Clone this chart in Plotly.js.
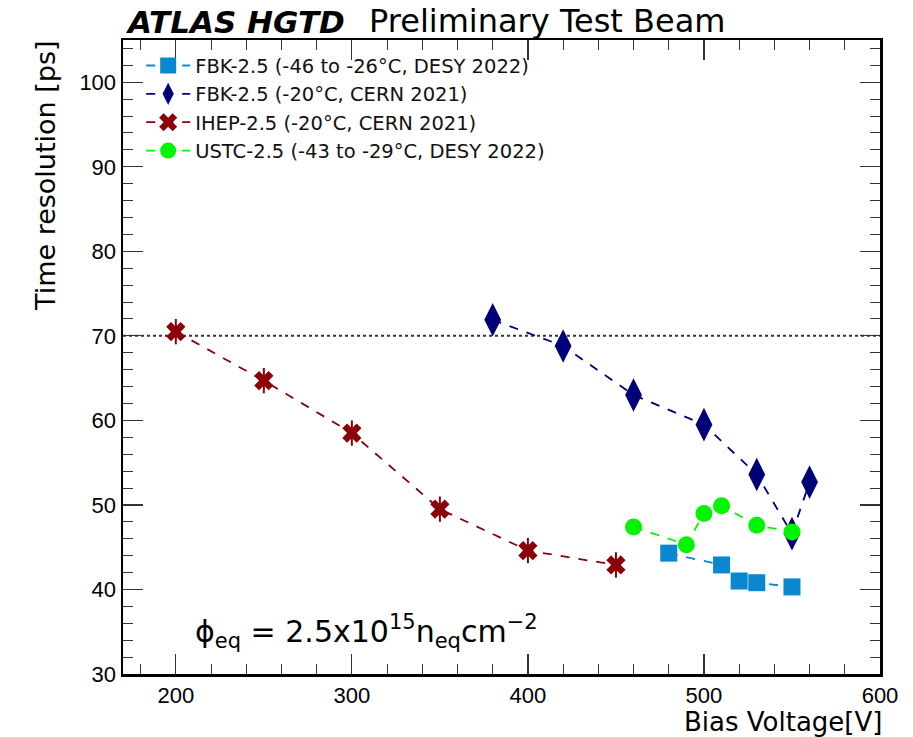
<!DOCTYPE html>
<html>
<head>
<meta charset="utf-8">
<script src="https://cdn.plot.ly/plotly-3.0.1.min.js"></script>
<style>html,body{margin:0;padding:0;background:#fff;}#plot{width:913px;height:737px;}</style>
</head>
<body>
<div id="plot"></div>
<script>
// Data
const fbkDesyV = [480, 510, 520, 530, 550];
const fbkDesyT = [44.3, 42.9, 41.0, 40.8, 40.3];
const fbkDesyErr = [0.5, 0.5, 0.5, 0.5, 0.5];

const fbkCernV = [380, 420, 460, 500, 530, 550, 560];
const fbkCernT = [71.9, 68.8, 63.0, 59.5, 53.6, 46.6, 52.7];
const fbkCernErr = [1.4, 1.4, 1.4, 1.4, 1.4, 1.4, 1.4];

const ihepV = [200, 250, 300, 350, 400, 450];
const ihepT = [70.5, 64.7, 58.5, 49.5, 44.6, 42.9];
const ihepErr = [1.5, 1.5, 1.5, 1.5, 1.5, 1.5];

const ustcV = [460, 490, 500, 510, 530, 550];
const ustcT = [47.4, 45.3, 49.0, 49.9, 47.6, 46.8];
const ustcErr = [0.5, 0.5, 0.5, 0.5, 0.5, 0.5];

const refLevel = 70;
const xRange = [170, 600];
const yRange = [30, 105];

const names = [
  "FBK-2.5 (-46 to -26\u00B0C, DESY 2022)",
  "FBK-2.5 (-20\u00B0C, CERN 2021)",
  "IHEP-2.5 (-20\u00B0C, CERN 2021)",
  "USTC-2.5 (-43 to -29\u00B0C, DESY 2022)"
];

function tr(x, y, e, name, color, symbol, size) {
  return {
    x: x, y: y, name: name, type: 'scatter', mode: 'lines+markers',
    line: {color: color, dash: 'dash', width: 1.8},
    marker: {color: color, symbol: symbol, size: size, line: {width: 0}},
    error_y: {type: 'data', array: e, visible: true, color: color, thickness: 2, width: 0}
  };
}

const data = [
  tr(fbkDesyV, fbkDesyT, fbkDesyErr, names[0], '#0b86d1', 'square', 17),
  tr(fbkCernV, fbkCernT, fbkCernErr, names[1], '#000078', 'diamond-tall', 24),
  tr(ihepV, ihepT, ihepErr, names[2], '#8b0008', 'x', 17),
  tr(ustcV, ustcT, ustcErr, names[3], '#00f500', 'circle', 17)
];

const font = 'Liberation Sans, Arial, Helvetica, sans-serif';
const wfont = 'DejaVu Sans, Verdana, sans-serif';

const axisCommon = {
  showgrid: false, zeroline: false, showline: true, linecolor: '#000', linewidth: 2.5,
  mirror: 'allticks', ticks: 'inside', ticklen: 20, tickwidth: 1.2, tickcolor: '#333',
  tickfont: {family: font, size: 22, color: '#000'}
};

const layout = {
  width: 913, height: 737,
  margin: {l: 123, r: 33, t: 40, b: 63},
  paper_bgcolor: '#fff', plot_bgcolor: '#fff',
  showlegend: true,
  legend: {x: 0.024, y: 0.99, xanchor: 'left', yanchor: 'top', bgcolor: 'rgba(0,0,0,0)',
           font: {family: wfont, size: 19.5, color: '#111'}, tracegroupgap: 0, itemwidth: 44},
  xaxis: Object.assign({}, axisCommon, {
    range: xRange, dtick: 100, tick0: 200,
    minor: {dtick: 20, ticks: 'inside', ticklen: 10, tickcolor: '#333', tickwidth: 1},
    title: {text: ''}
  }),
  yaxis: Object.assign({}, axisCommon, {
    range: yRange, dtick: 10, tick0: 30,
    minor: {dtick: 2, ticks: 'inside', ticklen: 10, tickcolor: '#333', tickwidth: 1},
    title: {text: ''}
  }),
  shapes: [{
    type: 'line', xref: 'paper', x0: 0, x1: 1, yref: 'y', y0: refLevel, y1: refLevel,
    line: {color: '#333', width: 2, dash: 'dot'}, layer: 'below'
  }],
  annotations: [
    {xref: 'paper', yref: 'paper', x: 0, y: 1, xanchor: 'left', yanchor: 'bottom', yshift: -2,
     showarrow: false, text: '<b><i>ATLAS HGTD</i></b>', font: {family: wfont, size: 31, color: '#000'}},
    {xref: 'paper', yref: 'paper', x: 0.322, y: 1, xanchor: 'left', yanchor: 'bottom', yshift: -2,
     showarrow: false, text: 'Preliminary Test Beam', font: {family: wfont, size: 32, color: '#000'}},
    {xref: 'paper', yref: 'paper', x: 1, y: 0, xanchor: 'right', yanchor: 'top', yshift: -31, xshift: 4,
     showarrow: false, text: 'Bias Voltage[V]', font: {family: wfont, size: 26, color: '#000'}},
    {xref: 'paper', yref: 'paper', x: 0, y: 1, xanchor: 'right', yanchor: 'top', xshift: -60, yshift: 2,
     textangle: -90, showarrow: false, text: 'Time resolution [ps]', font: {family: wfont, size: 27, color: '#000'}},
    {xref: 'x', yref: 'y', x: 210, y: 35, xanchor: 'left', yanchor: 'middle', showarrow: false,
     text: '\u03D5<sub>eq</sub> = 2.5x10<sup>15</sup>n<sub>eq</sub>cm<sup>\u22122</sup>',
     font: {family: wfont, size: 30, color: '#000'}}
  ]
};

Plotly.newPlot('plot', data, layout, {displayModeBar: false, staticPlot: true});
</script>
</body>
</html>
